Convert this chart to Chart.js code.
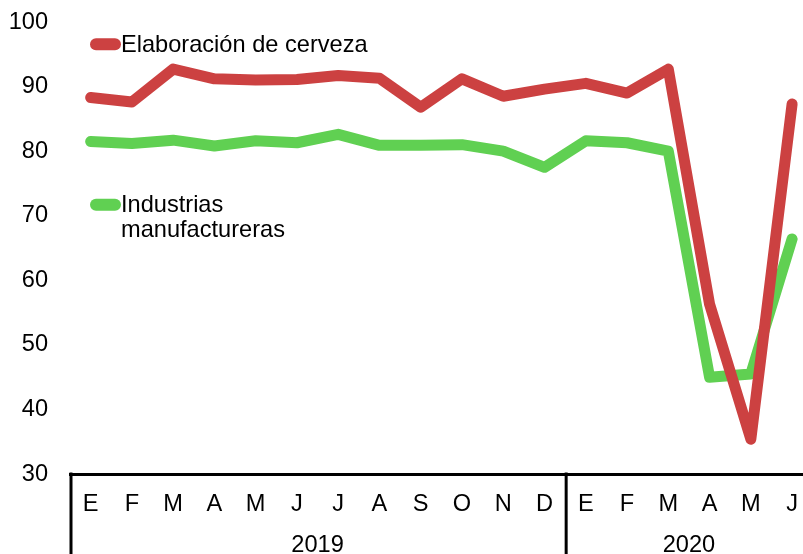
<!DOCTYPE html>
<html>
<head>
<meta charset="utf-8">
<script src="https://cdn.jsdelivr.net/npm/chart.js@4.4.1/dist/chart.umd.min.js"></script>
<style>
  html, body { margin: 0; padding: 0; background: #fff; overflow: hidden; }
  #wrap { width: 814px; height: 554px; position: relative; }
</style>
</head>
<body>
<div id="wrap"><canvas id="c"></canvas></div>
<script>
const months = ["E","F","M","A","M","J","J","A","S","O","N","D","E","F","M","A","M","J"];
const years = ["2019", "2020"];
const yearStarts = [0, 12];
const cerveza = [88.3, 87.6, 92.7, 91.2, 91.0, 91.1, 91.7, 91.3, 86.8, 91.2, 88.5, 89.6, 90.5, 89.0, 92.7, 56.3, 35.4, 87.3];
const manufactura = [81.5, 81.2, 81.7, 80.8, 81.6, 81.3, 82.6, 80.9, 80.9, 81.0, 80.0, 77.5, 81.6, 81.3, 80.0, 45.0, 45.5, 66.4];
const seriesNames = ["Elaboración de cerveza", ["Industrias", "manufactureras"]];
const yTicks = [30, 40, 50, 60, 70, 80, 90, 100];

const RED = "rgb(204,65,65)";
const GREEN = "rgb(96,208,82)";
const FONT = "'Liberation Sans', Arial, sans-serif";
const FS = 23.6;

const overlay = {
  id: "overlay",
  afterDraw(chart) {
    const ctx = chart.ctx;
    const xs = chart.scales.x;
    const ca = chart.chartArea;
    const band = xs.getPixelForValue(1) - xs.getPixelForValue(0);
    ctx.save();
    // group separators
    ctx.strokeStyle = "#000";
    ctx.lineWidth = 3;
    const bounds = yearStarts.concat([months.length]);
    bounds.forEach(i => {
      const x = xs.getPixelForValue(i) - band / 2 + 1;
      ctx.beginPath();
      ctx.moveTo(x, ca.bottom - 1.5);
      ctx.lineTo(x, chart.height);
      ctx.stroke();
    });
    // year labels
    ctx.fillStyle = "#000";
    ctx.font = FS + "px " + FONT;
    ctx.textAlign = "center";
    ctx.textBaseline = "middle";
    years.forEach((y, k) => {
      const a = xs.getPixelForValue(bounds[k]) - band / 2;
      const b = xs.getPixelForValue(bounds[k + 1]) - band / 2;
      ctx.fillText(y, (a + b) / 2, 545);
    });
    // legend
    const ys = chart.scales.y;
    const legendItems = [
      { color: RED, lines: [seriesNames[0]], y: ys.getPixelForValue(96.55) },
      { color: GREEN, lines: seriesNames[1], y: ys.getPixelForValue(71.7) }
    ];
    ctx.textAlign = "left";
    legendItems.forEach(it => {
      ctx.strokeStyle = it.color;
      ctx.lineWidth = 12;
      ctx.lineCap = "round";
      ctx.beginPath();
      ctx.moveTo(96, it.y);
      ctx.lineTo(115, it.y);
      ctx.stroke();
      ctx.fillStyle = "#000";
      it.lines.forEach((t, j) => {
        ctx.fillText(t, 121, it.y + 1 + j * 25);
      });
    });
    ctx.restore();
  }
};

new Chart(document.getElementById("c"), {
  type: "line",
  data: {
    labels: months,
    datasets: [
      { label: "Elaboración de cerveza", data: cerveza, borderColor: RED, borderWidth: 11,
        pointRadius: 0, tension: 0, borderCapStyle: "round", borderJoinStyle: "round", clip: false },
      { label: "Industrias manufactureras", data: manufactura, borderColor: GREEN, borderWidth: 11,
        pointRadius: 0, tension: 0, borderCapStyle: "round", borderJoinStyle: "round", clip: false }
    ]
  },
  options: {
    responsive: true,
    maintainAspectRatio: false,
    animation: false,
    events: [],
    layout: { padding: { top: 22, right: 0, left: 0, bottom: 0 } },
    plugins: { legend: { display: false }, tooltip: { enabled: false } },
    scales: {
      x: {
        type: "category",
        offset: true,
        grid: { display: false, drawTicks: false },
        border: { display: true, color: "#000", width: 3 },
        ticks: { color: "#000", font: { family: FONT, size: FS }, padding: 16, maxRotation: 0, autoSkip: false },
        afterFit(s) { s.height = 80; }
      },
      y: {
        min: 30, max: 100,
        afterBuildTicks(s) { s.ticks = yTicks.map(v => ({ value: v })); },
        grid: { display: false, drawTicks: true, tickLength: 22 },
        border: { display: false },
        ticks: { color: "#000", font: { family: FONT, size: FS }, padding: 0 },
        afterFit(s) { s.width = 70; }
      }
    }
  },
  plugins: [overlay]
});
</script>
</body>
</html>
